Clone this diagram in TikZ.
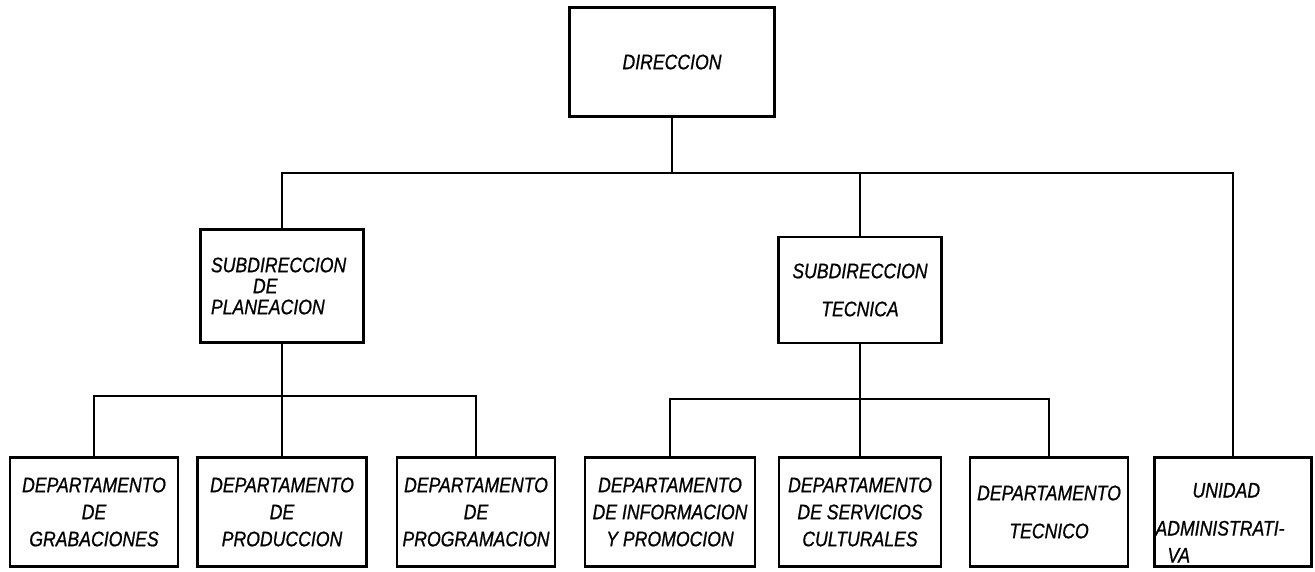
\documentclass[tikz,border=0pt]{standalone}
\usepackage{fontspec}
\setmainfont{Liberation Sans}[FakeStretch=0.84,FakeBold=0.8]
\usepackage{tikz}

\begin{document}
\begin{tikzpicture}[x=1pt,y=-1pt,
        box/.style={draw,line width=2.6pt,inner sep=0pt,minimum height=109pt,align=center,
            font=\itshape\fontsize{21}{27}\selectfont},
        link/.style={line width=2pt}]
        \useasboundingbox (0,0) rectangle (1315,571);

        \node[box,minimum width=205pt] (dir) at (672,62) {DIRECCION};
        \node[box,minimum width=163pt,minimum height=113pt,text width=142pt,align=left] (subpla) at (282,286)
            {SUBDIRECCION\\[-6pt]\hspace*{42pt}DE\\[-6pt]PLANEACION};
        \node[box,minimum width=163pt,minimum height=106pt] (subtec) at (860,290) {SUBDIRECCION\\[11pt]TECNICA};

        \node[box,minimum width=168pt] (grab) at (94,512) {DEPARTAMENTO\\DE\\GRABACIONES};
        \node[box,minimum width=169pt] (prod) at (282,512) {DEPARTAMENTO\\DE\\PRODUCCION};
        \node[box,minimum width=158pt] (prog) at (476,512) {DEPARTAMENTO\\DE\\PROGRAMACION};
        \node[box,minimum width=170pt] (info) at (670,512) {DEPARTAMENTO\\DE INFORMACION\\Y PROMOCION};
        \node[box,minimum width=162pt] (serv) at (860,512) {DEPARTAMENTO\\DE SERVICIOS\\CULTURALES};
        \node[box,minimum width=158pt] (tec) at (1049,512) {DEPARTAMENTO\\[11pt]TECNICO};
        \node[box,minimum width=157pt,text width=155pt,align=left] (admin) at (1233,512)
            {\rule{0pt}{36pt}\hspace*{37pt}UNIDAD\\[11pt]ADMINISTRATI-\\\hspace*{12pt}VA};

        \coordinate (busmain) at (0,173);
        \coordinate (busleft) at (0,396);
        \coordinate (busright) at (0,399);

        \draw[link] (dir.south) -- (dir.south |- busmain);
        \draw[link] (subpla.north) |- (admin.north |- busmain) -- (admin.north);
        \draw[link] (subtec.north) -- (subtec.north |- busmain);

        \draw[link] (grab.north) |- (prog.north |- busleft) -- (prog.north);
        \draw[link] (subpla.south) -- (prod.north);
        \draw[link] (info.north) |- (tec.north |- busright) -- (tec.north);
        \draw[link] (subtec.south) -- (serv.north);
    \end{tikzpicture}
\end{document}
